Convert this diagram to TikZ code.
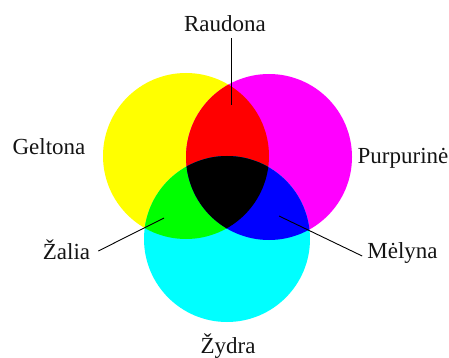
\documentclass[tikz,border=0pt]{standalone}
\usepackage{fontspec}
\setmainfont{Liberation Serif}
\definecolor{cY}{RGB}{255,255,0}
\definecolor{cM}{RGB}{255,0,255}
\definecolor{cC}{RGB}{0,255,255}
\definecolor{cR}{RGB}{255,0,0}
\definecolor{cG}{RGB}{0,255,0}
\definecolor{cB}{RGB}{0,0,255}
\definecolor{txt}{RGB}{20,20,20}
\begin{document}
\begin{tikzpicture}[x=1pt,y=-1pt,
  lbl/.style={font=\fontsize{23}{27}\selectfont, text=txt, anchor=base, inner sep=0pt},
  conn/.style={draw=black, line width=0.9pt}]
\useasboundingbox (0,0) rectangle (449,358);
\coordinate (Y) at (186,156);
\coordinate (M) at (269,157);
\coordinate (C) at (227,239);
\def\rr{83pt}
\fill[cY] (Y) circle[radius=\rr];
\fill[cM] (M) circle[radius=\rr];
\fill[cC] (C) circle[radius=\rr];
\begin{scope}
  \clip (Y) circle[radius=\rr];
  \fill[cR] (M) circle[radius=\rr];
  \fill[cG] (C) circle[radius=\rr];
\end{scope}
\begin{scope}
  \clip (M) circle[radius=\rr];
  \fill[cB] (C) circle[radius=\rr];
  \clip (Y) circle[radius=\rr];
  \fill[black] (C) circle[radius=\rr];
\end{scope}
\node[lbl] (raud) at (225,32) {Raudona};
\node[lbl] (gelt) at (49,154) {Geltona};
\node[lbl] (purp) at (403,164) {Purpurinė};
\node[lbl] (zal) at (66.5,259) {Žalia};
\node[lbl] (mel) at (402.5,258) {Mėlyna};
\node[lbl] (zyd) at (228,353) {Žydra};
\coordinate (rtip) at (231,105);
\coordinate (gtip) at (164,218);
\coordinate (btip) at (279,216);
\draw[conn] (raud.south -| rtip) ++(0,6) -- (rtip);
\draw[conn] (zal.base east) ++(8,-8) -- (gtip);
\draw[conn] (mel.base west) ++(-5,-2) -- (btip);
\end{tikzpicture}
\end{document}
